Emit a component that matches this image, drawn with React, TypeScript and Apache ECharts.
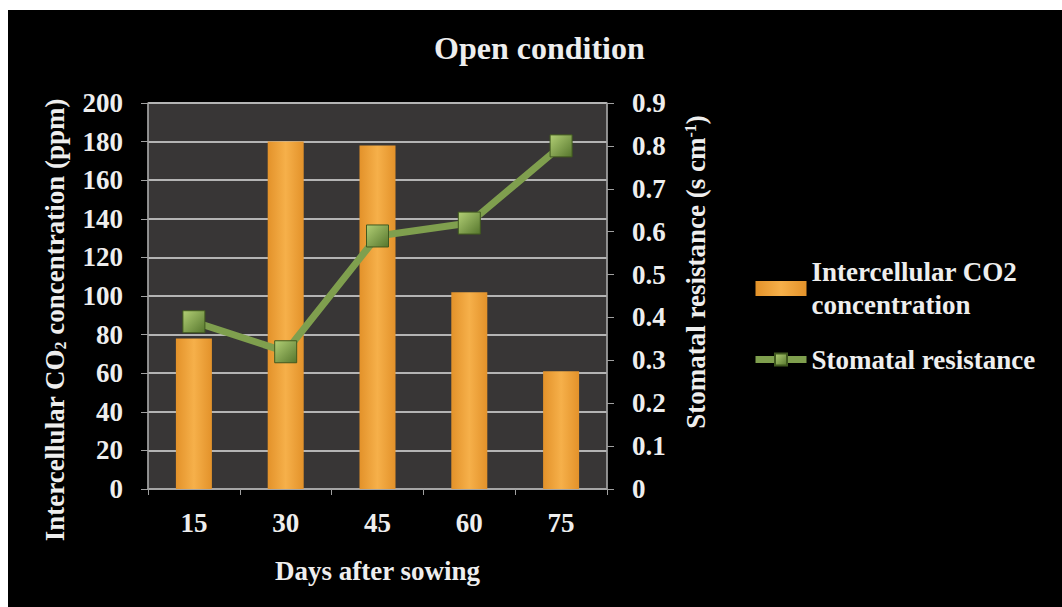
import React, { useEffect, useRef } from "react";
import * as echarts from "echarts";

const days = ["15", "30", "45", "60", "75"];
const co2Values = [78, 180, 178, 102, 61];
const resistanceValues = [0.39, 0.32, 0.59, 0.62, 0.8];
const co2Name = "Intercellular CO2\nconcentration";
const resistanceName = "Stomatal resistance";

const FONT = "'Liberation Serif', 'Times New Roman', serif";
const WHITE = "#eeeeee";

export default function App() {
  const ref = useRef<HTMLDivElement>(null);
  useEffect(() => {
    if (!ref.current) return;
    const chart = echarts.init(ref.current, undefined, { renderer: "svg" });
    const txt = { color: WHITE, fontFamily: FONT, fontWeight: "bold" as const, fontSize: 27 };
    chart.setOption({
      animation: false,
      backgroundColor: "#000000",
      title: {
        text: "Open condition",
        left: 421,
        top: 17,
        textStyle: { ...txt, fontSize: 32 },
      },
      legend: {
        orient: "vertical",
        left: 739,
        top: 224,
        itemWidth: 51,
        itemHeight: 15,
        itemGap: 5,
        textStyle: { ...txt, lineHeight: 33 },
        data: [
          { name: co2Name, icon: "rect", textStyle: { ...txt, lineHeight: 33, padding: [33, 0, 0, 0] } },
          { name: resistanceName, lineStyle: { width: 7, color: "#7f9f4e" } },
        ],
      },
      grid: {
        left: 140,
        right: 455,
        top: 93,
        bottom: 118,
        show: true,
        backgroundColor: "#383636",
        borderColor: "#9a9a9a",
        borderWidth: 1,
      },
      xAxis: {
        type: "category",
        data: days,
        name: "Days after sowing",
        nameLocation: "middle",
        nameGap: 68,
        nameTextStyle: txt,
        axisLine: { lineStyle: { color: "#a0a0a0", width: 1.5 } },
        axisTick: { show: true, length: 6, lineStyle: { color: "#a0a0a0" } },
        axisLabel: { ...txt, margin: 20 },
      },
      yAxis: [
        {
          type: "value",
          min: 0,
          max: 200,
          interval: 20,
          name: "{n|Intercellular CO}{s|2}{n| concentration (ppm)}",
          nameLocation: "middle",
          nameRotate: 90,
          nameGap: 80,
          nameTextStyle: {
            ...txt,
            padding: [0, 48, 0, 0],
            rich: {
              n: { ...txt },
              s: { ...txt, fontSize: 16, verticalAlign: "bottom" },
            },
          },
          axisLine: { show: true, lineStyle: { color: "#a0a0a0", width: 1.5 } },
          axisTick: { show: true, length: 7, lineStyle: { color: "#a0a0a0" } },
          axisLabel: { ...txt, margin: 25 },
          splitLine: { show: true, lineStyle: { color: "#b4b4b4", width: 2 } },
        },
        {
          type: "value",
          min: 0,
          max: 0.9,
          interval: 0.1,
          position: "right",
          name: "{n|Stomatal resistance (s cm}{p|-1}{n|)}",
          nameLocation: "middle",
          nameRotate: 90,
          nameGap: 75,
          nameTextStyle: {
            ...txt,
            padding: [0, 0, 0, 48],
            rich: {
              n: { ...txt },
              p: { ...txt, fontSize: 16, verticalAlign: "top" },
            },
          },
          axisLine: { show: true, lineStyle: { color: "#a0a0a0", width: 1.5 } },
          axisTick: { show: true, length: 7, lineStyle: { color: "#a0a0a0" } },
          axisLabel: {
            ...txt,
            margin: 25,
            formatter: (v: number) => (v === 0 ? "0" : v.toFixed(1)),
          },
          splitLine: { show: false },
        },
      ],
      series: [
        {
          name: co2Name,
          type: "bar",
          yAxisIndex: 0,
          barWidth: 36,
          data: co2Values,
          itemStyle: {
            color: new echarts.graphic.LinearGradient(0, 0, 1, 0, [
              { offset: 0, color: "#e3922a" },
              { offset: 0.5, color: "#f6b04a" },
              { offset: 1, color: "#e3922a" },
            ]),
          },
          z: 2,
        },
        {
          name: resistanceName,
          type: "line",
          yAxisIndex: 1,
          data: resistanceValues,
          symbol: "rect",
          symbolSize: 22,
          lineStyle: { color: "#7f9f4e", width: 7 },
          itemStyle: {
            color: new echarts.graphic.LinearGradient(0, 0, 1, 1, [
              { offset: 0, color: "#b2cf75" },
              { offset: 1, color: "#56762d" },
            ]),
            borderColor: "#40591f",
            borderWidth: 1,
          },
          z: 3,
        },
      ],
    });
    return () => chart.dispose();
  }, []);
  return (
    <div
      ref={ref}
      style={{ position: "fixed", left: 8, top: 10, width: 1054, height: 597, background: "#000" }}
    />
  );
}
